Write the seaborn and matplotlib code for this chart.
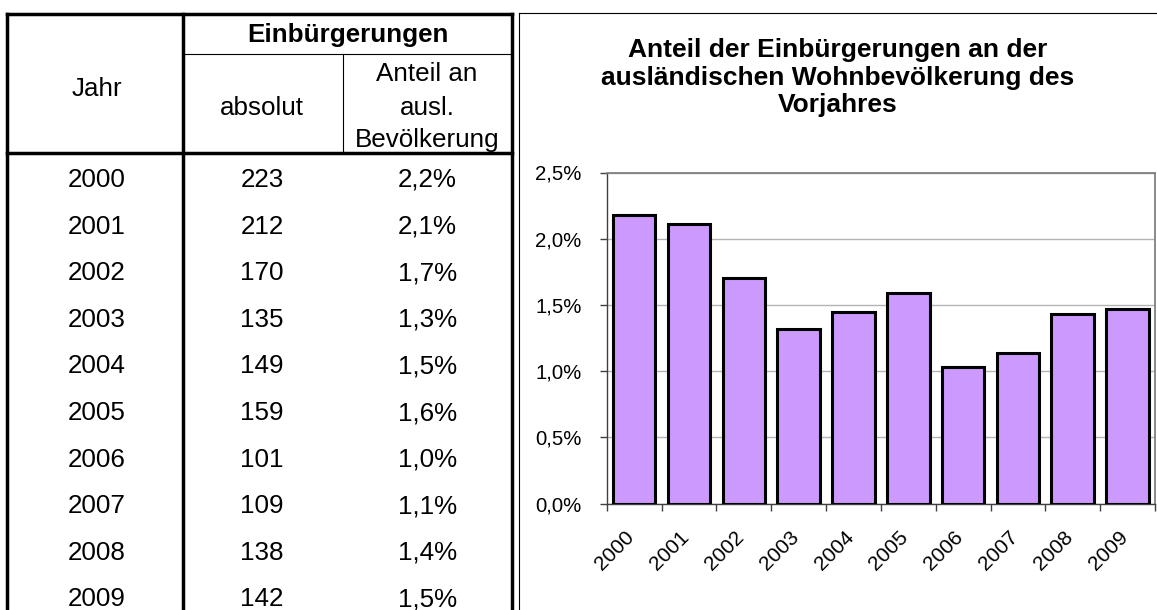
import matplotlib
matplotlib.use("Agg")
import matplotlib.pyplot as plt
from matplotlib.lines import Line2D
from matplotlib.ticker import FuncFormatter
from matplotlib.transforms import ScaledTranslation
import seaborn as sns

# data
years = ["2000", "2001", "2002", "2003", "2004", "2005", "2006", "2007", "2008", "2009"]
absolut = [223, 212, 170, 135, 149, 159, 101, 109, 138, 142]
anteil_table = ["2,2%", "2,1%", "1,7%", "1,3%", "1,5%", "1,6%", "1,0%", "1,1%", "1,4%", "1,5%"]
anteil_chart = [2.18, 2.11, 1.70, 1.32, 1.45, 1.59, 1.03, 1.14, 1.43, 1.47]
y_ticks = [0.0, 0.5, 1.0, 1.5, 2.0, 2.5]

chart_title = "Anteil der Einbürgerungen an der\nausländischen Wohnbevölkerung des\nVorjahres"

sns.set_style("white")
plt.rcParams["font.family"] = ["Liberation Sans", "DejaVu Sans"]
plt.rcParams["text.color"] = "black"
plt.rcParams["xtick.color"] = "black"
plt.rcParams["ytick.color"] = "black"

W, H = 1157, 610
fig = plt.figure(figsize=(W / 100, H / 100), dpi=100)


def fx(px):
    return px / W


def fy(py):
    return 1 - py / H


def hline(x0, x1, y, lw):
    fig.add_artist(Line2D([fx(x0), fx(x1)], [fy(y), fy(y)], color="black", lw=lw,
                          solid_capstyle="projecting"))


def vline(x, y0, y1, lw):
    fig.add_artist(Line2D([fx(x), fx(x)], [fy(y0), fy(y1)], color="black", lw=lw,
                          solid_capstyle="projecting"))


def cell(x, y, s, bold=False):
    # y is the visual middle of the digits, place the baseline below it
    fig.text(fx(x), fy(y + 9), s, ha="center", va="baseline", fontsize=18.7,
             fontweight="bold" if bold else "normal", color="black")


# --- table -----------------------------------------------------------
thick, thin = 2.5, 0.8
hline(7, 512, 14, thick)
hline(183, 512, 54, thin)
hline(7, 512, 153, thick)
vline(7, 14, 615, thick)
vline(183, 14, 615, thick)
vline(512, 14, 615, thick)
vline(343, 54, 153, thin)

cell(347.5, 33, "Einbürgerungen", bold=True)
cell(97, 87, "Jahr")
cell(262, 106, "absolut")
cell(427, 72, "Anteil an")
cell(427, 106, "ausl.")
cell(427, 138, "Bevölkerung")

for i, (yr, ab, an) in enumerate(zip(years, absolut, anteil_table)):
    yy = 178 + i * 46.6
    cell(97, yy, yr)
    cell(262, yy, str(ab))
    cell(427.5, yy, an)

# --- chart frame -----------------------------------------------------
hline(519, 1160, 12.5, 0.8)
vline(519, 12.5, 615, 0.8)

for k, line in enumerate(chart_title.split("\n")):
    fig.text(fx(838), fy(50 + k * 27.5 + 7), line, ha="center", va="baseline",
             fontsize=19, fontweight="bold", color="black")

left, right, top, bottom = 606.7, 1155, 172.5, 503.5
ax = fig.add_axes([fx(left), fy(bottom), fx(right - left), (bottom - top) / H])

sns.barplot(x=years, y=anteil_chart, color="#CC99FF", saturation=1,
            edgecolor="black", linewidth=2.2, width=0.776, ax=ax, zorder=3)

ax.set_xlim(-0.5, len(years) - 0.5)
ax.set_ylim(0, 2.5)
ax.set_yticks(y_ticks)
ax.yaxis.set_major_formatter(FuncFormatter(lambda v, p: f"{v:.1f}%".replace(".", ",")))
ax.grid(axis="y", color="#b3b3b3", lw=1, zorder=0)
ax.set_axisbelow(True)

for side in ["top", "right"]:
    ax.spines[side].set_color("#808080")
    ax.spines[side].set_linewidth(1.3)
for side in ["left", "bottom"]:
    ax.spines[side].set_color("#404040")
    ax.spines[side].set_linewidth(1)

ax.tick_params(axis="y", direction="out", length=5, width=1, color="#404040",
               labelcolor="black", labelsize=14.7, pad=13, left=True)
ax.set_xticks(range(len(years)))
ax.set_xticklabels(years, rotation=45, ha="right", fontsize=15, color="black")
ax.set_xticks([i - 0.5 for i in range(len(years) + 1)], minor=True)
ax.tick_params(axis="x", which="major", length=0, pad=17)
ax.tick_params(axis="x", which="minor", direction="out", length=5, width=1,
               color="#404040", bottom=True)
# nudge rotated year labels a little to the right, as in the reference
shift = ScaledTranslation(4 / 100, 0, fig.dpi_scale_trans)
for lab in ax.get_xticklabels():
    lab.set_transform(lab.get_transform() + shift)
ax.set_xlabel("")
ax.set_ylabel("")

fig.savefig("out.png", dpi=100)
